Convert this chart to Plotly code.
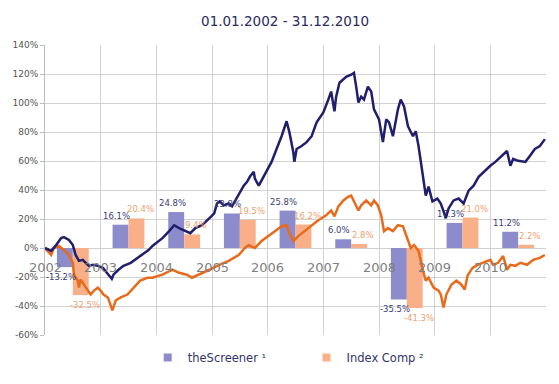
import plotly.graph_objects as go

# ---- data ----
years = [2002, 2003, 2004, 2005, 2006, 2007, 2008, 2009, 2010]
year_labels = ["2002", "2003", "2004", "2005", "2006", "2007", "2008", "2009", "2010"]
screener_ret = [-13.2, 16.1, 24.8, 23.8, 25.8, 6.0, -35.5, 17.3, 11.2]
index_ret = [-32.5, 20.4, 9.4, 19.5, 16.2, 2.8, -41.3, 21.0, 2.2]

screener_t = [2002.00, 2002.11, 2002.20, 2002.29, 2002.34, 2002.43, 2002.50, 2002.55, 2002.61, 2002.68,
              2002.73, 2002.79, 2002.86, 2002.95, 2003.04, 2003.09, 2003.14, 2003.20, 2003.23, 2003.32,
              2003.41, 2003.54, 2003.66, 2003.77, 2003.86, 2003.93, 2004.11, 2004.23, 2004.32, 2004.41,
              2004.52, 2004.61, 2004.70, 2004.82, 2004.95, 2005.04, 2005.09, 2005.14, 2005.21, 2005.30,
              2005.36, 2005.41, 2005.50, 2005.57, 2005.63, 2005.68, 2005.75, 2005.77, 2005.84, 2005.89,
              2005.98, 2006.07, 2006.16, 2006.25, 2006.34, 2006.39, 2006.46, 2006.48, 2006.52, 2006.61,
              2006.70, 2006.79, 2006.88, 2007.00, 2007.09, 2007.14, 2007.20, 2007.23, 2007.29, 2007.41,
              2007.50, 2007.55, 2007.59, 2007.63, 2007.68, 2007.73, 2007.80, 2007.86, 2007.91, 2008.00,
              2008.07, 2008.13, 2008.18, 2008.25, 2008.34, 2008.39, 2008.45, 2008.52, 2008.61, 2008.66,
              2008.71, 2008.79, 2008.84, 2008.89, 2008.96, 2009.05, 2009.11, 2009.16, 2009.20, 2009.25,
              2009.34, 2009.43, 2009.52, 2009.61, 2009.70, 2009.79, 2009.88, 2010.00, 2010.09, 2010.21,
              2010.30, 2010.36, 2010.41, 2010.50, 2010.63, 2010.71, 2010.80, 2010.89, 2010.98]
screener_v = [0, -2.0, 2.0, 6.8, 7.5, 5.5, 2.0, -4.8, -8.9, -8.2,
              -10.2, -12.3, -11.6, -12.3, -13.7, -15.7, -18.4, -21.2, -18.4, -15.0,
              -12.3, -10.2, -6.8, -3.4, -1.4, 1.4, 6.8, 11.6, 15.7, 13.7,
              11.6, 10.2, 13.7, 15.7, 20.5, 23.9, 30.7, 32.1, 29.4, 30.7,
              28.7, 32.1, 37.5, 43.0, 45.7, 49.1, 52.6, 47.8, 43.0, 46.4,
              52.6, 59.4, 68.3, 77.1, 87.4, 79.9, 66.2, 59.4, 68.3, 70.3,
              73.0, 77.1, 86.7, 93.5, 102.4, 107.9, 94.2, 104.4, 114.0, 118.1,
              119.5, 120.8, 111.3, 100.3, 104.4, 102.4, 111.3, 107.9, 95.6, 88.7,
              73.0, 88.7, 86.7, 77.1, 95.6, 102.4, 97.6, 84.0, 77.1, 80.5,
              70.3, 49.8, 36.2, 42.3, 32.1, 34.1, 30.7, 25.3, 20.5, 27.3,
              32.8, 34.1, 30.7, 39.6, 43.0, 49.1, 52.6, 56.7, 59.4, 63.5,
              66.9, 56.7, 61.4, 60.1, 59.4, 63.5, 68.3, 70.3, 75.1]

index_t = [2002.00, 2002.11, 2002.16, 2002.25, 2002.34, 2002.43, 2002.50, 2002.52, 2002.59, 2002.61,
           2002.64, 2002.70, 2002.77, 2002.82, 2002.88, 2002.95, 2003.00, 2003.05, 2003.13, 2003.18,
           2003.21, 2003.27, 2003.36, 2003.48, 2003.59, 2003.71, 2003.84, 2003.93, 2004.11, 2004.29,
           2004.41, 2004.55, 2004.64, 2004.77, 2004.95, 2005.13, 2005.30, 2005.48, 2005.59, 2005.66,
           2005.77, 2005.89, 2006.02, 2006.13, 2006.25, 2006.34, 2006.39, 2006.46, 2006.55, 2006.66,
           2006.79, 2006.91, 2007.05, 2007.14, 2007.20, 2007.27, 2007.36, 2007.45, 2007.50, 2007.55,
           2007.63, 2007.68, 2007.77, 2007.86, 2007.91, 2007.98, 2008.04, 2008.09, 2008.16, 2008.25,
           2008.34, 2008.43, 2008.52, 2008.57, 2008.63, 2008.71, 2008.79, 2008.84, 2008.89, 2008.98,
           2009.07, 2009.11, 2009.16, 2009.21, 2009.30, 2009.39, 2009.48, 2009.54, 2009.59, 2009.68,
           2009.77, 2009.86, 2010.00, 2010.05, 2010.14, 2010.23, 2010.30, 2010.36, 2010.45, 2010.54,
           2010.66, 2010.77, 2010.89, 2010.98]
index_v = [0, -4.8, 0, 1.4, -1.4, -4.8, -10.2, -18.4, -22.5, -27.3,
           -21.8, -25.3, -29.4, -32.1, -29.4, -27.3, -29.4, -32.1, -34.1, -38.9,
           -43.0, -36.2, -34.1, -32.1, -27.3, -22.5, -20.5, -20.5, -18.4, -15.0,
           -17.1, -18.4, -20.5, -18.4, -15.0, -11.6, -8.9, -4.8, 0, 2.0,
           0, 4.8, 8.2, 11.6, 15.0, 15.7, 10.2, 4.8, 8.2, 11.6,
           15.7, 19.1, 22.5, 25.9, 21.8, 28.7, 32.8, 35.5, 36.2, 32.1,
           25.9, 29.4, 32.8, 29.4, 32.8, 29.4, 22.5, 11.6, 13.7, 11.6,
           15.7, 15.0, 4.8, 0, 2.0, -2.0, -15.7, -22.5, -20.5, -27.3,
           -29.4, -32.1, -41.0, -32.1, -25.3, -22.5, -25.3, -28.7, -19.1, -13.7,
           -11.6, -10.2, -8.2, -11.6, -10.2, -5.5, -15.0, -11.6, -12.3, -10.2,
           -11.6, -8.2, -6.8, -4.8]

y_ticks = [-60, -40, -20, 0, 20, 40, 60, 80, 100, 120, 140]
y_tick_labels = ["-60%", "-40%", "-20%", "0%", "20%", "40%", "60%", "80%", "100%", "120%", "140%"]
title_text = "01.01.2002 - 31.12.2010"
legend_names = ["theScreener ¹", "Index Comp ²"]

# ---- styling ----
FONT = "DejaVu Sans"
BLUE_BAR = "#8c8ccc"
ORANGE_BAR = "#f9b088"
BLUE_LINE = "#211e6c"
ORANGE_LINE = "#e96a1b"
BLUE_TXT = "#3c3c78"
ORANGE_TXT = "#f0a070"
BAR_W = 0.286

mid = [y + 0.5 for y in years]

fig = go.Figure()
fig.add_trace(go.Bar(
    x=mid, y=screener_ret, width=BAR_W, offset=-BAR_W,
    marker=dict(color=BLUE_BAR, line=dict(width=0)),
    name=legend_names[0], showlegend=False,
))
fig.add_trace(go.Bar(
    x=mid, y=index_ret, width=BAR_W, offset=0,
    marker=dict(color=ORANGE_BAR, line=dict(width=0)),
    name=legend_names[1], showlegend=False,
))
fig.add_trace(go.Scatter(
    x=index_t, y=index_v, mode="lines",
    line=dict(color=ORANGE_LINE, width=2.5), showlegend=False, hoverinfo="skip",
))
fig.add_trace(go.Scatter(
    x=screener_t, y=screener_v, mode="lines",
    line=dict(color=BLUE_LINE, width=2.5), showlegend=False, hoverinfo="skip",
))
# legend keys (small squares, as in the reference)
fig.add_trace(go.Scatter(
    x=[None], y=[None], mode="markers", name=legend_names[0],
    marker=dict(symbol="square", size=8, color=BLUE_BAR), legend="legend",
))
fig.add_trace(go.Scatter(
    x=[None], y=[None], mode="markers", name=legend_names[1],
    marker=dict(symbol="square", size=8, color=ORANGE_BAR), legend="legend2",
))

# value labels of the bars, slightly spread left / right of each pair
for xm, v in zip(mid, screener_ret):
    fig.add_annotation(x=xm - BAR_W / 2, y=v, text=f"{v:.1f}%", showarrow=False,
                       xanchor="center", yanchor="bottom" if v >= 0 else "top",
                       xshift=-4, yshift=2 if v >= 0 else -3,
                       font=dict(family=FONT, size=8.5, color=BLUE_TXT))
for xm, v in zip(mid, index_ret):
    fig.add_annotation(x=xm + BAR_W / 2, y=v, text=f"{v:.1f}%", showarrow=False,
                       xanchor="center", yanchor="bottom" if v >= 0 else "top",
                       xshift=4, yshift=2 if v >= 0 else -3,
                       font=dict(family=FONT, size=8.5, color=ORANGE_TXT))

for yr, lab in zip(years, year_labels):
    fig.add_annotation(x=yr, y=-13.7, text=lab, showarrow=False,
                       font=dict(family=FONT, size=13, color="#7f7f7f"),
                       xanchor="center", yanchor="middle")

fig.update_layout(
    width=559, height=384,
    margin=dict(l=42, r=13, t=45, b=46),
    paper_bgcolor="white", plot_bgcolor="white",
    barmode="overlay",
    font=dict(family=FONT, color="#555555"),
    title=dict(text=title_text, x=0.51, xanchor="center", y=0.945, yanchor="middle",
               font=dict(family=FONT, size=13.5, color="#2a2a5c")),
    xaxis=dict(range=[2002, 2011], tickvals=years[1:], showticklabels=False,
               showgrid=True, gridcolor="#d2d2d2", gridwidth=1, zeroline=False,
               showline=False, ticks=""),
    yaxis=dict(range=[-60, 140], tickmode="array", tickvals=y_ticks, ticktext=y_tick_labels,
               tickfont=dict(family=FONT, size=9, color="#555555"),
               showgrid=True, gridcolor="#d2d2d2", gridwidth=1,
               zeroline=True, zerolinecolor="#cfcfcf", zerolinewidth=1,
               showline=True, linecolor="#bdbdbd", linewidth=1,
               ticks="outside", ticklen=4, tickcolor="#bdbdbd"),
    legend=dict(x=0.205, y=-0.078, xanchor="left", yanchor="middle",
                font=dict(family=FONT, size=11.5, color="#33336a"),
                bgcolor="rgba(0,0,0,0)", itemwidth=30),
    legend2=dict(x=0.522, y=-0.078, xanchor="left", yanchor="middle",
                 font=dict(family=FONT, size=11.5, color="#33336a"),
                 bgcolor="rgba(0,0,0,0)", itemwidth=30),
    showlegend=True,
)

fig.write_html("out.html", config={"displayModeBar": False},
               post_script="document.body.style.margin='0';")
